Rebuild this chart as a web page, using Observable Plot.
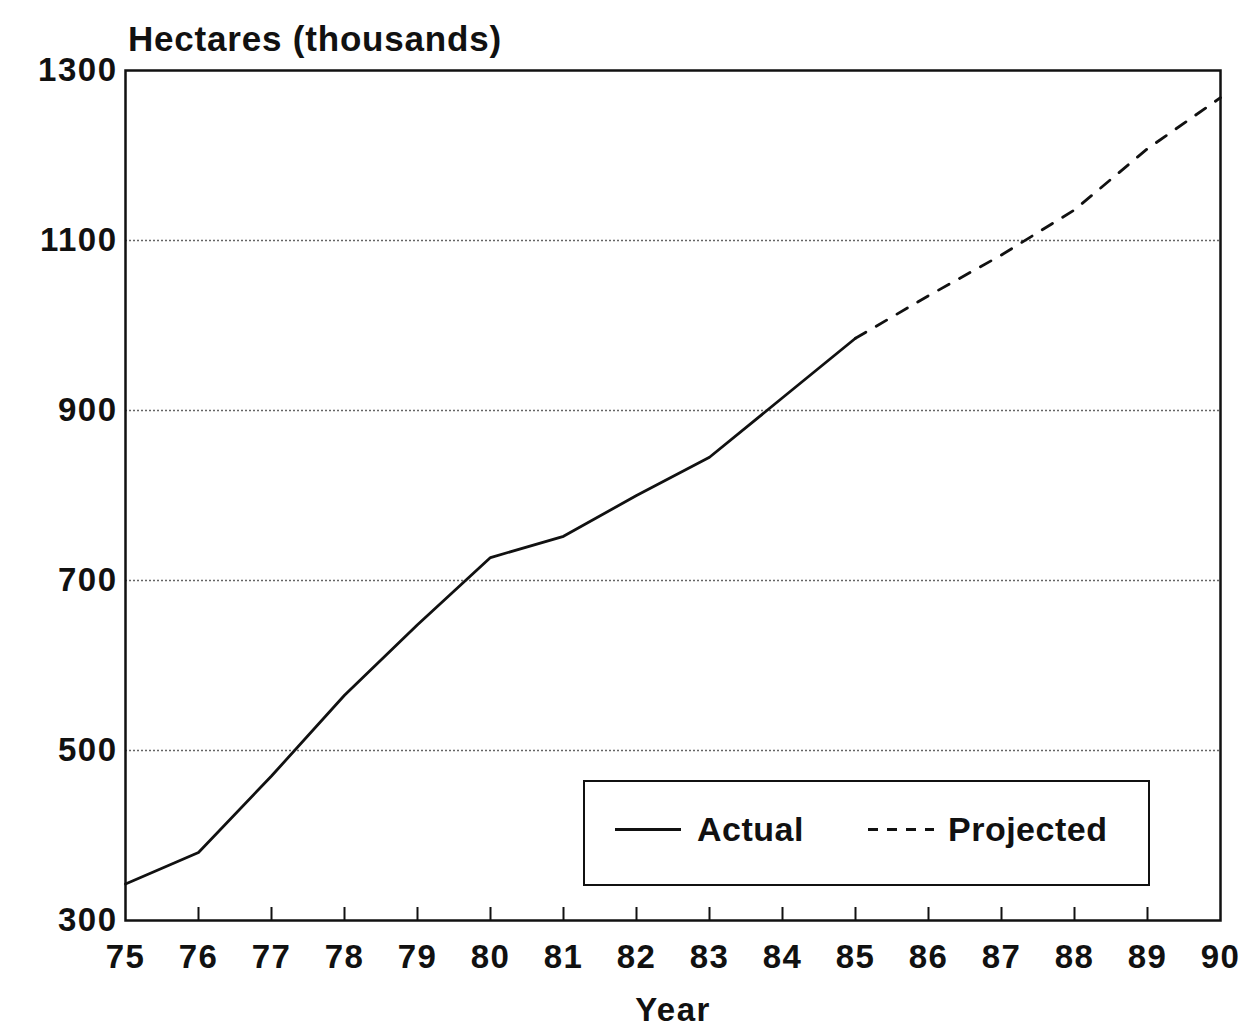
<!DOCTYPE html>
<html>
<head>
<meta charset="utf-8">
<script src="https://cdn.jsdelivr.net/npm/d3@7"></script>
<script src="https://cdn.jsdelivr.net/npm/@observablehq/plot@0.6"></script>
<style>
  html, body { margin: 0; padding: 0; background: #fff; }
  #wrap { position: relative; width: 1245px; height: 1029px; font-family: "Liberation Sans", Arial, Helvetica, sans-serif; font-weight: 700; }
  #title { position: absolute; left: 128px; top: 19px; font-size: 35px; font-weight: 700; color: #111; letter-spacing: 0.8px; z-index: 2; }
  #legend { position: absolute; left: 583px; top: 780px; width: 563px; height: 102px; border: 2.5px solid #111; background: #fff; z-index: 2; }
  .lg { position: absolute; top: 28px; font-size: 34px; font-weight: 700; color: #111; letter-spacing: 0.5px; }
  .sw { position: absolute; top: 46px; width: 66px; height: 2.5px; }
  svg text { letter-spacing: 1.5px; }
</style>
</head>
<body>
<div id="wrap">
  <div id="title">Hectares (thousands)</div>
</div>
<script>
// Data
const years = [75, 76, 77, 78, 79, 80, 81, 82, 83, 84, 85, 86, 87, 88, 89, 90];
const actualYears = [75, 76, 77, 78, 79, 80, 81, 82, 83, 84, 85];
const actualValues = [343, 380, 470, 565, 648, 727, 752, 800, 845, 915, 985];
const projectedYears = [85, 86, 87, 88, 89, 90];
const projectedValues = [985, 1035, 1083, 1136, 1208, 1268];
const yTicks = [300, 500, 700, 900, 1100, 1300];
const gridValues = [500, 700, 900, 1100];
const legendLabels = ["Actual", "Projected"];

const actual = actualYears.map((y, i) => ({year: y, value: actualValues[i]}));
const projected = projectedYears.map((y, i) => ({year: y, value: projectedValues[i]}));

const width = 1245, height = 1029;
const marginTop = 70, marginBottom = 109, marginLeft = 125, marginRight = 25;
const innerH = height - marginTop - marginBottom;

const chart = Plot.plot({
  width, height, marginTop, marginBottom, marginLeft, marginRight,
  style: {fontFamily: '"Liberation Sans", Arial, Helvetica, sans-serif', fontSize: "33px", fontWeight: 700, color: "#111", background: "#fff"},
  x: {domain: [75, 90]},
  y: {domain: [300, 1300]},
  marks: [
    Plot.ruleY(gridValues, {stroke: "#666", strokeWidth: 1.6, strokeDasharray: "2,2"}),
    Plot.ruleX(years.slice(1, -1), {x: d => d, insetTop: innerH - 13, stroke: "#111", strokeWidth: 2}),
    Plot.frame({stroke: "#111", strokeWidth: 2.5}),
    Plot.axisY({ticks: yTicks, tickSize: 0, tickPadding: 8, tickFormat: d => String(d), label: null}),
    Plot.axisX({ticks: years, tickSize: 0, tickPadding: 24, tickFormat: d => String(d), label: "Year", labelAnchor: "center", labelOffset: 100, labelArrow: "none"}),
    Plot.line(actual, {x: "year", y: "value", stroke: "#111", strokeWidth: 2.8}),
    Plot.line(projected, {x: "year", y: "value", stroke: "#111", strokeWidth: 2.8, strokeDasharray: "12,12"})
  ]
});
const wrap = document.getElementById("wrap");
chart.style.position = "absolute";
chart.style.left = "0";
chart.style.top = "0";
chart.style.zIndex = "1";
wrap.appendChild(chart);

// Legend (HTML overlay)
const legend = document.createElement("div");
legend.id = "legend";
legend.innerHTML = `
  <div class="sw" style="left:30px;background:#111"></div>
  <div class="lg" style="left:112px">${legendLabels[0]}</div>
  <div class="sw" style="left:283px;background:repeating-linear-gradient(to right,#111 0 10px,transparent 10px 19px)"></div>
  <div class="lg" style="left:363px">${legendLabels[1]}</div>`;
wrap.appendChild(legend);
</script>
</body>
</html>
